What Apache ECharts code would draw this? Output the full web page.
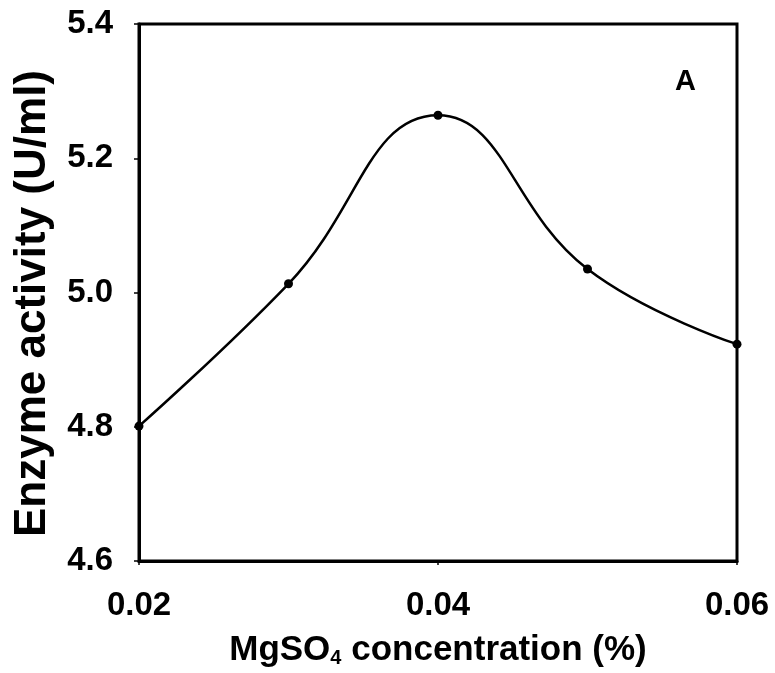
<!DOCTYPE html>
<html>
<head>
<meta charset="utf-8">
<script src="https://cdn.jsdelivr.net/npm/echarts@6/dist/echarts.min.js"></script>
<style>
html,body{margin:0;padding:0;background:#fff;}
#main{width:775px;height:673px;}
</style>
</head>
<body>
<div id="main"></div>
<script>
// MgSO4 concentration (%) vs enzyme activity (U/ml)
var xVals = [0.02, 0.03, 0.04, 0.05, 0.06];
var activity = [4.801, 5.013, 5.264, 5.035, 4.923];
var yTicks = [4.6, 4.8, 5.0, 5.2, 5.4];
var xTicks = [0.02, 0.04, 0.06];

var myChart = echarts.init(document.getElementById("main"));
var pts = [];
for (var i = 0; i < xVals.length; i++) {
	pts.push([xVals[i], activity[i]]);
}
var font = "Liberation Sans";
var option = {
	animation: false,
	backgroundColor: '#fff',
	grid: {
		left: 139, top: 24, right: 38, bottom: 112,
		show: true, borderColor: '#000', borderWidth: 3
	},
	xAxis: {
		type: 'value',
		min: 0.02, max: 0.06, interval: 0.02,
		name: 'MgSO{sub|4} concentration (%)',
		nameLocation: 'middle',
		nameGap: 71,
		nameTextStyle: {
			fontFamily: font, fontWeight: 'bold', fontSize: 35, color: '#000',
			rich: {
				sub: {fontFamily: font, fontWeight: 'bold', fontSize: 20, color: '#000', verticalAlign: 'bottom', padding: [16, 0, 0, 0]}
			}
		},
		axisLine: {lineStyle: {color: '#000', width: 3}},
		axisTick: {show: true, inside: false, length: 4, lineStyle: {color: '#000', width: 1.5}},
		splitLine: {show: false},
		axisLabel: {
			margin: 28,
			fontFamily: font, fontWeight: 'bold', fontSize: 33, color: '#000',
			formatter: function (v) { return v.toFixed(2); }
		}
	},
	yAxis: {
		type: 'value',
		min: 4.6, max: 5.4, interval: 0.2,
		name: 'Enzyme activity (U/ml)',
		nameLocation: 'middle',
		nameGap: 84,
		nameTextStyle: {fontFamily: font, fontWeight: 'bold', fontSize: 44, color: '#000', padding: [0, 22, 0, 0]},
		axisLine: {lineStyle: {color: '#000', width: 3}},
		axisTick: {show: true, inside: false, length: 5, lineStyle: {color: '#000', width: 1.5}},
		splitLine: {show: false},
		axisLabel: {
			margin: 26,
			fontFamily: font, fontWeight: 'bold', fontSize: 33, color: '#000',
			formatter: function (v) { return v.toFixed(1); }
		}
	},
	graphic: [{
		type: 'text',
		left: 675, top: 67,
		style: {text: 'A', font: 'bold 29px "Liberation Sans"', fill: '#000'}
	}],
	series: [{
		type: 'line',
		data: pts,
		smooth: 0.45,
		symbol: 'circle',
		symbolSize: 9,
		itemStyle: {color: '#000'},
		lineStyle: {color: '#000', width: 2.5}
	}]
};
myChart.setOption(option);
</script>
</body>
</html>
